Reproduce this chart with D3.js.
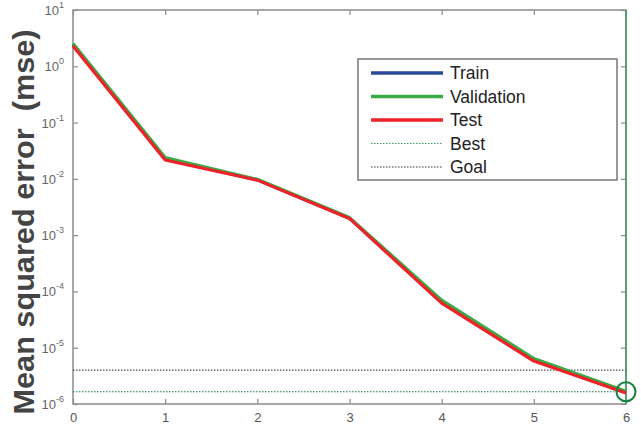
<!DOCTYPE html>
<html><head><meta charset="utf-8">
<script src="https://cdn.jsdelivr.net/npm/d3@7"></script>
<style>body{margin:0;background:#fff}svg{display:block}</style>
</head><body>
<svg id="c" width="641" height="428"></svg>
<script>
const epochs = [0, 1, 2, 3, 4, 5, 6];
const train = [2.45, 0.0225, 0.0096, 0.00200, 6.6e-5, 6.1e-6, 1.62e-6];
const validation = [2.55, 0.0240, 0.0098, 0.00205, 7.0e-5, 6.4e-6, 1.68e-6];
const test = [2.3, 0.0216, 0.0095, 0.00198, 6.2e-5, 5.8e-6, 1.57e-6];
const bestEpoch = 6;
const bestValue = 1.65e-6;
const goalValue = 4.0e-6;
const yTickExps = [1, 0, -1, -2, -3, -4, -5, -6];
const xTicks = [0, 1, 2, 3, 4, 5, 6];
const legendLabels = ["Train", "Validation", "Test", "Best", "Goal"];

const svg = d3.select("#c");
const L = 73, R = 626, T = 10, B = 404;
const x = d3.scaleLinear().domain([0, 6]).range([L, R]);
const y = d3.scaleLog().domain([1e-6, 10]).range([B, T]);
const axisCol = "#8c8c8c";
const tickCol = "#555";

// axes
const gx = svg.append("g").attr("transform", `translate(0,${B})`)
  .call(d3.axisBottom(x).tickValues(xTicks).tickSize(-5).tickPadding(9).tickFormat(d3.format("d")));
gx.select(".domain").remove();
gx.selectAll("line").attr("stroke", axisCol).attr("stroke-width", 1.2);
gx.selectAll("text").attr("fill", tickCol).attr("font-size", 13).attr("font-family", "Liberation Sans, Arial, sans-serif");

const gxt = svg.append("g").attr("transform", `translate(0,${T})`)
  .call(d3.axisTop(x).tickValues(xTicks).tickSize(-5).tickFormat(""));
gxt.select(".domain").remove();
gxt.selectAll("line").attr("stroke", axisCol).attr("stroke-width", 1.2);

const yVals = yTickExps.map(e => Math.pow(10, e));
const gy = svg.append("g").attr("transform", `translate(${L},0)`)
  .call(d3.axisLeft(y).tickValues(yVals).tickSize(-5).tickFormat(""));
gy.select(".domain").remove();
gy.selectAll("line").attr("stroke", axisCol).attr("stroke-width", 1.2);
const gyr = svg.append("g").attr("transform", `translate(${R},0)`)
  .call(d3.axisRight(y).tickValues(yVals).tickSize(-5).tickFormat(""));
gyr.select(".domain").remove();
gyr.selectAll("line").attr("stroke", axisCol).attr("stroke-width", 1.2);

// y tick labels with superscripts
yTickExps.forEach(e => {
  const t = svg.append("text")
    .attr("x", 64).attr("y", y(Math.pow(10, e)) + 5)
    .attr("text-anchor", "end")
    .attr("fill", "#666")
    .attr("font-family", "Liberation Sans, Arial, sans-serif")
    .attr("font-size", 13);
  t.append("tspan").text("10");
  t.append("tspan").attr("dy", -7).attr("font-size", 9).text(String(e));
});

// box
svg.append("rect").attr("x", L).attr("y", T).attr("width", R - L).attr("height", B - T)
  .attr("fill", "none").attr("stroke", axisCol).attr("stroke-width", 1.5);

// goal and best lines
svg.append("line").attr("x1", L).attr("x2", R).attr("y1", y(goalValue)).attr("y2", y(goalValue))
  .attr("stroke", "#222").attr("stroke-width", 1).attr("stroke-dasharray", "1.5,1.5");
svg.append("line").attr("x1", L).attr("x2", R).attr("y1", y(bestValue)).attr("y2", y(bestValue))
  .attr("stroke", "#1a8040").attr("stroke-width", 1).attr("stroke-dasharray", "1.5,1.5");
svg.append("line").attr("x1", x(bestEpoch)).attr("x2", x(bestEpoch)).attr("y1", T).attr("y2", B)
  .attr("stroke", "#3a9a60").attr("stroke-width", 1.3);

// series
const line = d3.line().x((d, i) => x(epochs[i])).y(d => y(d));
const series = [
  {data: train, color: "#2a4a9a"},
  {data: validation, color: "#3aaa45"},
  {data: test, color: "#ee2228"}
];
series.forEach(s => {
  svg.append("path").attr("d", line(s.data)).attr("fill", "none")
    .attr("stroke", s.color).attr("stroke-width", 3.2).attr("stroke-linejoin", "round");
});

// best circle
svg.append("circle").attr("cx", x(bestEpoch)).attr("cy", y(bestValue)).attr("r", 9.5)
  .attr("fill", "none").attr("stroke", "#1a8040").attr("stroke-width", 2);

// legend
const lg = svg.append("g");
lg.append("rect").attr("x", 358).attr("y", 59).attr("width", 259).attr("height", 121)
  .attr("fill", "#fff").attr("stroke", "#777").attr("stroke-width", 1.5);
const legendStyles = [
  {color: "#2a4a9a", w: 3.5, dash: null},
  {color: "#3aaa45", w: 3.5, dash: null},
  {color: "#ee2228", w: 3.5, dash: null},
  {color: "#3a9a60", w: 1, dash: "1.5,1.5"},
  {color: "#333", w: 1, dash: "1.5,1.5"}
];
legendLabels.forEach((lab, i) => {
  const yy = 73 + i * 23.5;
  const st = legendStyles[i];
  const ln = lg.append("line").attr("x1", 371).attr("x2", 443).attr("y1", yy).attr("y2", yy)
    .attr("stroke", st.color).attr("stroke-width", st.w);
  if (st.dash) ln.attr("stroke-dasharray", st.dash);
  lg.append("text").attr("x", 450).attr("y", yy + 6).text(lab)
    .attr("font-family", "Liberation Sans, Arial, sans-serif").attr("font-size", 17.5).attr("fill", "#222");
});

// y label
svg.append("text")
  .attr("transform", `translate(34,222) rotate(-90)`)
  .attr("text-anchor", "middle")
  .attr("font-family", "Liberation Sans, Arial, sans-serif")
  .attr("font-weight", "bold")
  .attr("font-size", 29)
  .attr("textLength", 385)
  .attr("lengthAdjust", "spacingAndGlyphs")
  .attr("fill", "#444")
  .text("Mean squared error\u00a0\u00a0(mse)");
</script>
</body></html>
